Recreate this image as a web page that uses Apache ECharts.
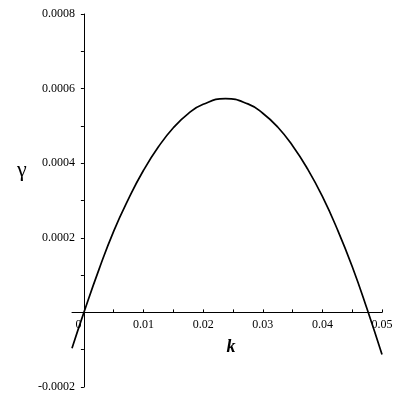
<!DOCTYPE html>
<html>
<head>
<meta charset="utf-8">
<script src="https://cdn.jsdelivr.net/npm/echarts@6/dist/echarts.min.js"></script>
<style>
  html, body { margin: 0; padding: 0; background: #fff; }
  #main { width: 400px; height: 400px; }
</style>
</head>
<body>
<div id="main"></div>
<script>
// values
var kValues = [-0.002, 0, 0.0025, 0.005, 0.0075, 0.01, 0.0125, 0.015, 0.0175, 0.02,
    0.02375, 0.0275, 0.03, 0.0325, 0.035, 0.0375, 0.04, 0.0425, 0.045, 0.0475, 0.05];
var gammaValues = [-0.000096, 0, 0.000114, 0.000218, 0.000305, 0.000381, 0.000444, 0.000495, 0.000533,
    0.000558, 0.000573, 0.000559, 0.000534, 0.000497, 0.000447, 0.000385, 0.000311,
    0.000223, 0.000123, 0.000009, -0.000113];
var xTicks = [0, 0.005, 0.01, 0.015, 0.02, 0.025, 0.03, 0.035, 0.04, 0.045, 0.05];
var xLabels = [0, 0.01, 0.02, 0.03, 0.04, 0.05];
var yLabels = [-0.0002, 0.0002, 0.0004, 0.0006, 0.0008];

var serif = '"Liberation Serif", "DejaVu Serif", serif';

var chart = echarts.init(document.getElementById('main'));

var points = kValues.map(function (k, i) { return [k, gammaValues[i]]; });

var option = {
    animation: false,
    backgroundColor: '#fff',
    title: {
        text: 'γ',
        left: 12,
        top: 154,
        textStyle: { fontFamily: serif, fontSize: 22, fontWeight: 'normal', color: '#000' }
    },
    grid: { left: 72, right: 18, top: 14, bottom: 13, containLabel: false, outerBoundsMode: 'none' },
    xAxis: {
        type: 'value',
        min: -0.002,
        max: 0.05,
        position: 'bottom',
        offset: -74.6, // axes cross at the origin
        name: 'k',
        nameLocation: 'middle',
        nameGap: 26,
        nameTextStyle: {
            fontFamily: serif, fontSize: 18, fontWeight: 'bold', fontStyle: 'italic',
            color: '#000', padding: [0, 0, 0, 8]
        },
        axisLine: { onZero: false, lineStyle: { color: '#000', width: 1 } },
        axisTick: { show: true, inside: true, length: 3, customValues: xTicks, lineStyle: { color: '#000' } },
        axisLabel: {
            customValues: xLabels,
            margin: 6,
            fontFamily: serif,
            fontSize: 12,
            color: '#000',
            formatter: function (v) { return v === 0 ? '{z|0}' : String(+v.toFixed(2)); },
            rich: { z: { fontFamily: serif, fontSize: 12, color: '#000', padding: [0, 11, 0, 0] } }
        },
        splitLine: { show: false }
    },
    yAxis: {
        type: 'value',
        min: -0.0002,
        max: 0.0008,
        interval: 0.0002,
        position: 'left',
        offset: -11.9,
        axisLine: { onZero: false, lineStyle: { color: '#000', width: 1 } },
        axisTick: { show: true, length: 3, lineStyle: { color: '#000' } },
        minorTick: { show: true, splitNumber: 2, length: 3, lineStyle: { color: '#000' } },
        axisLabel: {
            margin: 9,
            fontFamily: serif,
            fontSize: 12,
            color: '#000',
            formatter: function (v) {
                var r = +v.toFixed(4);
                return yLabels.indexOf(r) >= 0 ? r.toFixed(4) : '';
            }
        },
        splitLine: { show: false }
    },
    series: [{
        type: 'line',
        data: points,
        smooth: 0.5,
        showSymbol: false,
        lineStyle: { color: '#000', width: 1.7 }
    }]
};

chart.setOption(option);
</script>
</body>
</html>
